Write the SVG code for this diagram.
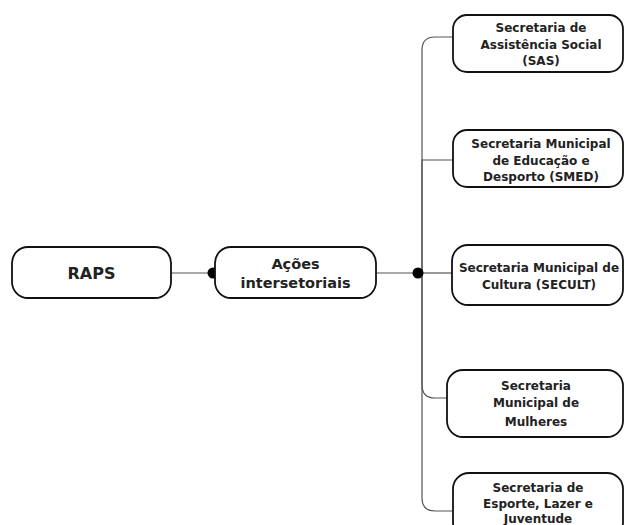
<svg xmlns="http://www.w3.org/2000/svg" width="625" height="525" viewBox="0 0 625 525">
<style>
.box{fill:#fff;stroke:#111;stroke-width:1.8}
.t{font-family:"DejaVu Sans",sans-serif;font-weight:bold;fill:#222;text-anchor:middle}
.s{font-size:12px}
.e{fill:none;stroke:#555;stroke-width:1.2}
.d{fill:#000}
</style>
<rect width="625" height="525" fill="#fff"/>
<g id="connectors">
<path class="e" d="M171,273 H215"/>
<path class="e" d="M376,273 H422"/>
<path class="e" d="M422,273 V50 Q422,37 435,37 H453"/>
<path class="e" d="M422,273 V160 H453"/>
<path class="e" d="M422,273 H452"/>
<path class="e" d="M422,273 V385 Q422,398 435,398 H447"/>
<path class="e" d="M422,273 V498 Q422,511 435,511 H453"/>
<circle class="d" cx="213" cy="273" r="5.5"/>
<circle class="d" cx="418" cy="273" r="5.5"/>
</g>
<g id="raps">
<rect class="box" x="12" y="247" width="159" height="51" rx="16"/>
<text class="t" x="91.5" y="279" font-size="16">RAPS</text>
</g>
<g id="acoes">
<rect class="box" x="215" y="247" width="161" height="51" rx="16"/>
<text class="t" x="295.5" y="269" font-size="14.5">Ações</text>
<text class="t" x="295.5" y="288" font-size="14.5">intersetoriais</text>
</g>
<g id="sas">
<rect class="box" x="453" y="15" width="170" height="57" rx="14"/>
<text class="t s" x="541" y="32">Secretaria de</text>
<text class="t s" x="541" y="49">Assistência Social</text>
<text class="t s" x="541" y="65">(SAS)</text>
</g>
<g id="smed">
<rect class="box" x="453" y="130" width="170" height="57" rx="14"/>
<text class="t s" x="541" y="148">Secretaria Municipal</text>
<text class="t s" x="541" y="165">de Educação e</text>
<text class="t s" x="541" y="181">Desporto (SMED)</text>
</g>
<g id="secult">
<rect class="box" x="452" y="245" width="171" height="60" rx="16"/>
<text class="t s" x="539" y="272">Secretaria Municipal de</text>
<text class="t s" x="539" y="289">Cultura (SECULT)</text>
</g>
<g id="mulheres">
<rect class="box" x="447" y="370" width="176" height="67" rx="16"/>
<text class="t s" x="536" y="390">Secretaria</text>
<text class="t s" x="536" y="407">Municipal de</text>
<text class="t s" x="536" y="426">Mulheres</text>
</g>
<g id="esporte">
<rect class="box" x="453" y="473" width="170" height="65" rx="16"/>
<text class="t s" x="538" y="492">Secretaria de</text>
<text class="t s" x="538" y="508">Esporte, Lazer e</text>
<text class="t s" x="538" y="523">Juventude</text>
</g>
</svg>
